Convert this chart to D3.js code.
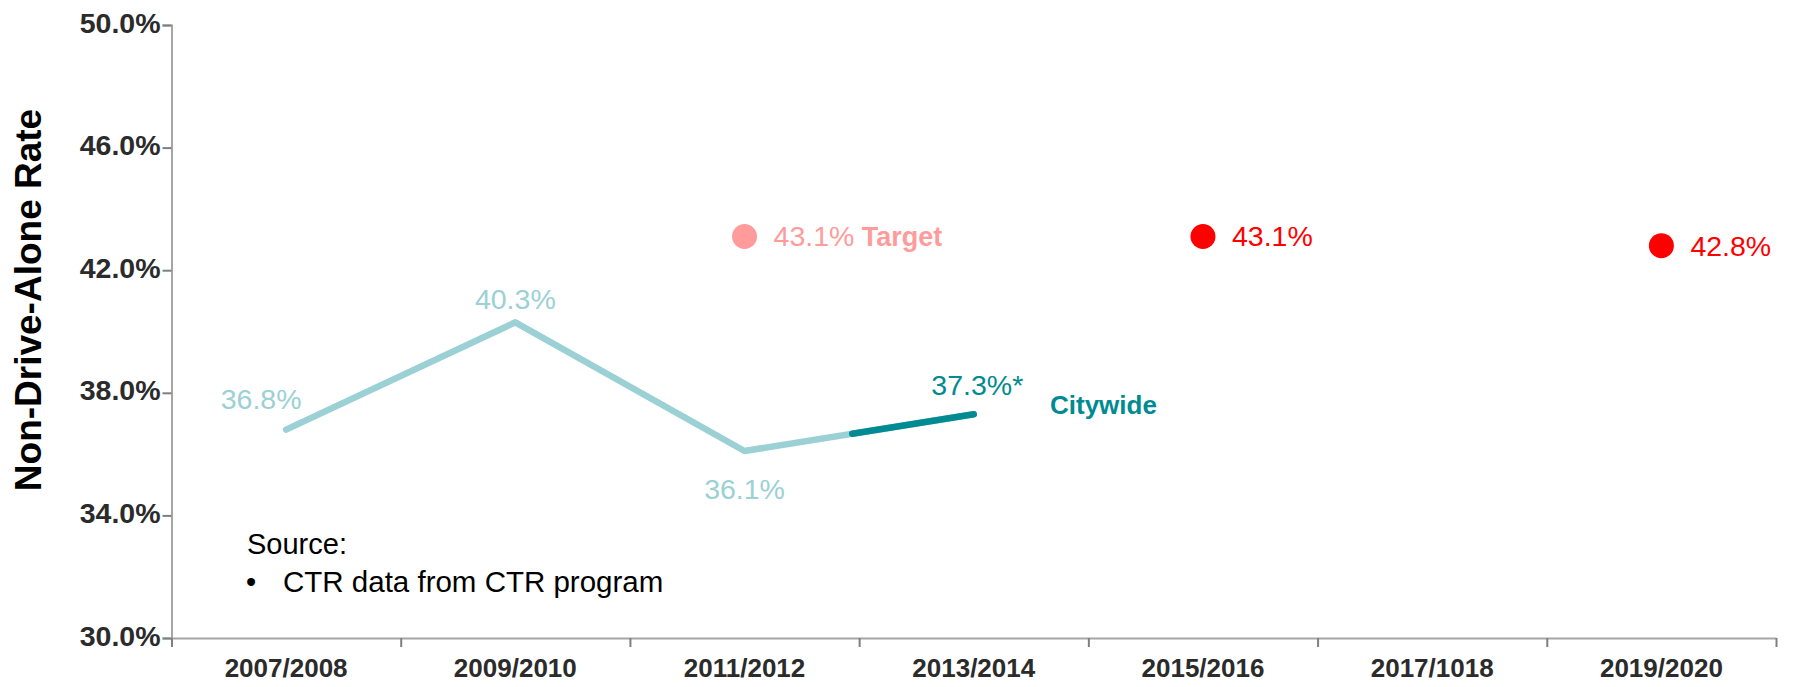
<!DOCTYPE html>
<html>
<head>
<meta charset="utf-8">
<script src="https://cdn.jsdelivr.net/npm/d3@7"></script>
<style>
  body { margin: 0; background: #fff; }
  text { font-family: "Liberation Sans", Arial, sans-serif; }
</style>
</head>
<body>
<div id="chartArea"></div>
<script>
var categories = ['2007/2008', '2009/2010', '2011/2012', '2013/2014', '2015/2016', '2017/1018', '2019/2020'];
var citywide = [36.8, 40.3, 36.1, 37.3, null, null, null];
var target = [null, null, 43.1, null, 43.1, null, 42.8];
var yTicks = [30, 34, 38, 42, 46, 50];

var W = 1793, H = 687;
var margin = { top: 25, right: 17, bottom: 49, left: 171.5 };
var w = W - margin.left - margin.right,
    h = H - margin.top - margin.bottom;

var svg = d3.select('#chartArea').append('svg')
    .attr('width', W)
    .attr('height', H)
    .append('g')
    .attr('transform', 'translate(' + margin.left + ', ' + margin.top + ')');

var xBand = d3.scaleBand().domain(categories).range([0, w]);
var xEdge = d3.scaleLinear().domain([0, categories.length]).range([0, w]);
var yScale = d3.scaleLinear().domain([30, 50]).range([h, 0]);

var cx = function(i) { return xBand(categories[i]) + xBand.bandwidth() / 2; };

// y axis
var yAxis = svg.append('g')
    .call(d3.axisLeft(yScale).tickValues(yTicks).tickSize(9).tickPadding(2)
        .tickFormat(function(d) { return d.toFixed(1) + '%'; }));
yAxis.select('.domain').attr('stroke', '#a6a6a6').attr('stroke-width', 2);
yAxis.selectAll('.tick line').attr('stroke', '#7f7f7f').attr('stroke-width', 2);
yAxis.selectAll('.tick text')
    .attr('fill', '#2b2b2b')
    .attr('dy', '0.25em')
    .style('font-weight', 'bold')
    .style('font-size', '28.5px');

// x axis: boundary ticks
var xAxis = svg.append('g')
    .attr('transform', 'translate(0,' + h + ')')
    .call(d3.axisBottom(xEdge).tickValues(d3.range(categories.length + 1))
        .tickSize(9).tickSizeOuter(0).tickFormat(''));
xAxis.select('.domain').attr('stroke', '#a6a6a6').attr('stroke-width', 2);
xAxis.selectAll('.tick line').attr('stroke', '#7f7f7f').attr('stroke-width', 2);

// x axis: category labels
var xLabels = svg.append('g')
    .attr('transform', 'translate(0,' + h + ')')
    .call(d3.axisBottom(xBand).tickSize(0).tickPadding(21));
xLabels.select('.domain').remove();
xLabels.selectAll('.tick text')
    .attr('fill', '#2b2b2b')
    .style('font-family', '"Liberation Sans", Arial, sans-serif')
    .style('font-weight', 'bold')
    .style('font-size', '26px');

// y axis title
svg.append('text')
    .attr('transform', 'translate(' + (28 - margin.left) + ',' + (300 - margin.top) + ') rotate(-90)')
    .attr('text-anchor', 'middle')
    .attr('dominant-baseline', 'central')
    .attr('fill', '#000')
    .style('font-weight', 'bold')
    .style('font-size', '37px')
    .text('Non-Drive-Alone Rate');

// citywide line
var lightTeal = '#9bd1d5', darkTeal = '#008a91';
var cityPts = citywide.map(function(v, i) { return v == null ? null : [cx(i), yScale(v)]; })
    .filter(function(p) { return p; });
var line = d3.line();
svg.append('path')
    .attr('d', line(cityPts))
    .attr('fill', 'none')
    .attr('stroke', lightTeal)
    .attr('stroke-width', 6.5)
    .attr('stroke-linecap', 'round')
    .attr('stroke-linejoin', 'round');

// latest (darker) portion of last segment
var n = cityPts.length;
var darkStart = d3.interpolate(cityPts[n - 2], cityPts[n - 1])(0.47);
svg.append('path')
    .attr('d', line([darkStart, cityPts[n - 1]]))
    .attr('fill', 'none')
    .attr('stroke', darkTeal)
    .attr('stroke-width', 6.5)
    .attr('stroke-linecap', 'round');

// citywide labels
var labelOff = [[-25, -21], [0, -13], [0, 48], [0, -19]];
citywide.forEach(function(v, i) {
    if (v == null) return;
    var last = i === n - 1;
    var t = svg.append('text')
        .attr('y', yScale(v) + labelOff[i][1])
        .attr('fill', last ? darkTeal : lightTeal)
        .style('font-size', '28.5px')
        .text(v.toFixed(1) + '%');
    if (last) {
        var tw = t.node().getComputedTextLength();
        t.attr('x', cx(i) - tw / 2 - 2).append('tspan').text('*');
    } else {
        t.attr('x', cx(i) + labelOff[i][0]).attr('text-anchor', 'middle');
    }
});

svg.append('text')
    .attr('x', 1050 - margin.left)
    .attr('y', 414 - margin.top)
    .attr('fill', darkTeal)
    .style('font-weight', 'bold')
    .style('font-size', '26px')
    .text('Citywide');

// target points
var firstTarget = target.findIndex(function(v) { return v != null; });
target.forEach(function(v, i) {
    if (v == null) return;
    var col = i === firstTarget ? '#ff9b9b' : '#ff0000';
    svg.append('circle')
        .attr('cx', cx(i))
        .attr('cy', yScale(v))
        .attr('r', 12.5)
        .attr('fill', col);
    var t = svg.append('text')
        .attr('x', cx(i) + 29)
        .attr('y', yScale(v) + 10)
        .attr('fill', col)
        .style('font-size', '28.5px')
        .text(v.toFixed(1) + '%');
    if (i === firstTarget) {
        t.append('tspan').style('font-weight', 'bold').style('font-size', '27px').text(' Target');
    }
});

// source note
svg.append('text')
    .attr('x', 247 - margin.left)
    .attr('y', 554 - margin.top)
    .attr('fill', '#000')
    .style('font-size', '29px')
    .text('Source:');
svg.append('text')
    .attr('x', 246 - margin.left)
    .attr('y', 592 - margin.top)
    .attr('fill', '#000')
    .style('font-size', '29px')
    .text('\u2022');
svg.append('text')
    .attr('x', 283 - margin.left)
    .attr('y', 592 - margin.top)
    .attr('fill', '#000')
    .style('font-size', '29.5px')
    .text('CTR data from CTR program');
</script>
</body>
</html>
